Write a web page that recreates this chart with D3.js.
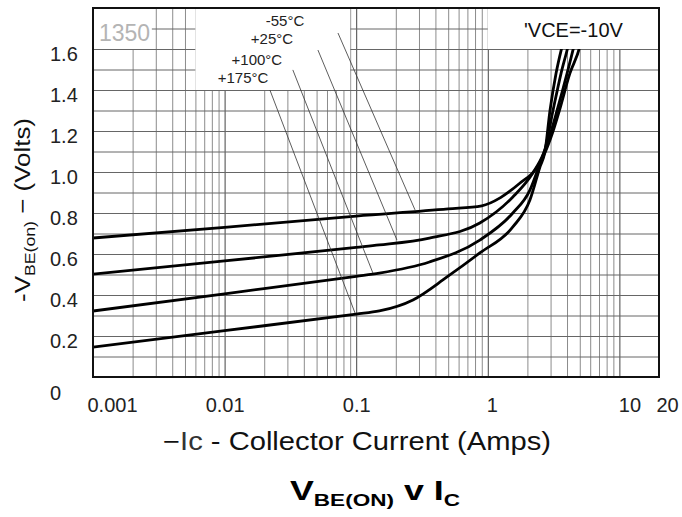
<!DOCTYPE html>
<html>
<head>
<meta charset="utf-8">
<script src="https://cdn.jsdelivr.net/npm/d3@7"></script>
<style>
  body { margin: 0; background: #fff; }
  text { font-family: "Liberation Sans", Arial, sans-serif; }
</style>
</head>
<body>
<svg id="chart"></svg>
<script>
// tick labels
const xTicks = [0.001, 0.01, 0.1, 1, 10, 20];
const yTicks = [0, 0.2, 0.4, 0.6, 0.8, 1.0, 1.2, 1.4, 1.6];

// series: [collector current (A), -VBE(on) (V)]
const tempLabels = ["-55°C", "+25°C", "+100°C", "+175°C"];
const vbeM55 = [[0.001, 0.678], [0.01, 0.73], [0.1, 0.785], [0.5, 0.82], [0.9, 0.835], [1.25, 0.875],
  [1.75, 0.945], [2.35, 1.02], [2.7, 1.09], [3.1, 1.19], [3.5, 1.3], [4.2, 1.48], [5.0, 1.61], [5.3, 1.68]];
const vbeP25 = [[0.001, 0.502], [0.01, 0.566], [0.1, 0.632], [0.15, 0.644], [0.36, 0.678], [0.87, 0.751],
  [1.55, 0.878], [2.2, 0.995], [2.65, 1.09], [3.0, 1.19], [3.36, 1.3], [4.0, 1.48], [4.5, 1.61], [4.8, 1.68]];
const vbeP100 = [[0.001, 0.322], [0.01, 0.406], [0.1, 0.491], [0.15, 0.507], [0.36, 0.561], [0.87, 0.668],
  [1.55, 0.8], [2.09, 0.912], [2.5, 1.044], [2.72, 1.11], [3.13, 1.3], [3.6, 1.48], [4.06, 1.61], [4.3, 1.68]];
const vbeP175 = [[0.001, 0.146], [0.01, 0.226], [0.1, 0.307], [0.15, 0.322], [0.27, 0.376], [0.49, 0.488],
  [0.87, 0.605], [1.55, 0.732], [2.09, 0.863], [2.49, 1.024], [2.72, 1.1], [2.97, 1.3], [3.3, 1.48],
  [3.66, 1.61], [3.9, 1.68]];

// annotation anchors in data units
const labelAt = [[0.0288, 1.737], [0.0229, 1.649], [0.0176, 1.546], [0.0138, 1.459]];
const leaderFrom = [[0.0727, 1.678], [0.0512, 1.595], [0.033, 1.498], [0.0221, 1.40]];
const leaderTo = [[0.28, 0.815], [0.204, 0.668], [0.134, 0.507], [0.098, 0.312]];
// white patches on the scanned grid: [I0, I1, V0, V1]
const patches = [[0.001, 0.0028, 1.6, 1.8], [0.006, 0.09, 1.4, 1.8], [1.0, 20, 1.6, 1.8]];

const svg = d3.select("#chart").attr("width", 682).attr("height", 517);
const L = 93, R = 659, T = 8, B = 377;

const x = d3.scaleLog().domain([0.001, 20]).range([L, R]);
const y = d3.scaleLinear().domain([0, 1.8]).range([B, T]);

const isDecade = d => Math.abs(Math.log10(d) - Math.round(Math.log10(d))) < 1e-9;

// grid
let minors = [];
[0.001, 0.01, 0.1, 1, 10].forEach(dec => d3.range(1, 10).forEach(k => {
  const v = k * dec;
  if (v > 0.001 && v < 20) minors.push(v);
}));

const gx = svg.append("g")
  .attr("transform", `translate(0,${B})`)
  .call(d3.axisBottom(x).tickValues(minors).tickSize(-(B - T)).tickFormat(""));
gx.select(".domain").remove();
gx.selectAll("line").attr("stroke", d => isDecade(d) ? "#444" : "#8c8c8c").attr("stroke-width", 1);

const gy = svg.append("g")
  .attr("transform", `translate(${L},0)`)
  .call(d3.axisLeft(y).tickValues(d3.range(1, 18).map(i => i / 10)).tickSize(-(R - L)).tickFormat(""));
gy.select(".domain").remove();
gy.selectAll("line").attr("stroke", "#666").attr("stroke-width", 1);

// curves
svg.append("clipPath").attr("id", "plot")
  .append("rect").attr("x", L).attr("y", T).attr("width", R - L).attr("height", B - T);

const line = d3.line().x(d => x(d[0])).y(d => y(d[1])).curve(d3.curveMonotoneX);
svg.append("g").attr("clip-path", "url(#plot)")
  .selectAll("path")
  .data([vbeM55, vbeP25, vbeP100, vbeP175])
  .join("path")
  .attr("d", line)
  .attr("fill", "none")
  .attr("stroke", "#000")
  .attr("stroke-width", 2.8)
  .attr("stroke-linejoin", "round");

// white patches
svg.append("g").selectAll("rect")
  .data(patches)
  .join("rect")
  .attr("x", d => x(d[0]))
  .attr("y", d => y(d[3]))
  .attr("width", d => x(d[1]) - x(d[0]))
  .attr("height", d => y(d[2]) - y(d[3]))
  .attr("fill", "#fff");

// leader lines and labels
svg.append("g").selectAll("line")
  .data(leaderFrom)
  .join("line")
  .attr("x1", d => x(d[0])).attr("y1", d => y(d[1]))
  .attr("x2", (d, i) => x(leaderTo[i][0])).attr("y2", (d, i) => y(leaderTo[i][1]))
  .attr("stroke", "#333").attr("stroke-width", 0.8);

svg.append("g").selectAll("text")
  .data(tempLabels)
  .join("text")
  .attr("x", (d, i) => x(labelAt[i][0]))
  .attr("y", (d, i) => y(labelAt[i][1]) + 5)
  .attr("text-anchor", "middle")
  .attr("font-size", 15)
  .attr("fill", "#222")
  .text(d => d);

svg.append("text")
  .attr("x", 99).attr("y", 41)
  .attr("font-size", 23)
  .attr("fill", "#b4b4b4")
  .text("1350");

svg.append("text")
  .attr("x", 524).attr("y", 37)
  .attr("font-size", 20)
  .attr("fill", "#111")
  .text("'VCE=-10V");

// frame
svg.append("rect")
  .attr("x", L).attr("y", T).attr("width", R - L).attr("height", B - T)
  .attr("fill", "none").attr("stroke", "#111").attr("stroke-width", 2);

// tick labels
const ax = svg.append("g")
  .attr("transform", `translate(0,${B})`)
  .call(d3.axisBottom(x).tickValues(xTicks).tickSize(0).tickFormat(d => String(d)));
ax.select(".domain").remove();
ax.selectAll("text")
  .attr("y", 35).attr("dy", null)
  .attr("dx", d => d === 0.001 ? 19 : d === 10 ? 10 : d === 20 ? 8 : d === 1 ? 4 : 0)
  .attr("font-size", 20).attr("font-family", null).attr("fill", "#222");

const ay = svg.append("g")
  .attr("transform", `translate(${L},0)`)
  .call(d3.axisLeft(y).tickValues(yTicks).tickSize(0).tickFormat(d => d === 0 ? "0" : d.toFixed(1)));
ay.select(".domain").remove();
ay.selectAll("text")
  .attr("x", 50 - L).attr("text-anchor", "start")
  .attr("y", d => d === 0 ? 22 : 11).attr("dy", null)
  .attr("font-size", 20).attr("font-family", null).attr("fill", "#222");

// axis titles
const xt = svg.append("text")
  .attr("x", 163).attr("y", 450)
  .attr("font-size", 25).attr("fill", "#111")
  .attr("textLength", 388).attr("lengthAdjust", "spacingAndGlyphs");
xt.append("tspan").text("−");
xt.append("tspan").attr("fill", "#333").text("Ic");
xt.append("tspan").text(" - Collector Current (Amps)");

const yt = svg.append("text")
  .attr("transform", "translate(30,302) rotate(-90)")
  .attr("font-size", 22).attr("fill", "#111")
  .attr("textLength", 184).attr("lengthAdjust", "spacingAndGlyphs");
yt.append("tspan").text("-V");
yt.append("tspan").attr("font-size", 15).attr("dy", 5).text("BE(on)");
yt.append("tspan").attr("dy", -5).text(" − (Volts)");

const tt = svg.append("text")
  .attr("x", 290).attr("y", 500)
  .attr("font-size", 27).attr("font-weight", "bold").attr("fill", "#000")
  .attr("textLength", 170).attr("lengthAdjust", "spacingAndGlyphs");
tt.append("tspan").text("V");
tt.append("tspan").attr("font-size", 17).attr("dy", 6).text("BE(ON)");
tt.append("tspan").attr("dy", -6).text(" v I");
tt.append("tspan").attr("font-size", 17).attr("dy", 6).text("C");
</script>
</body>
</html>
